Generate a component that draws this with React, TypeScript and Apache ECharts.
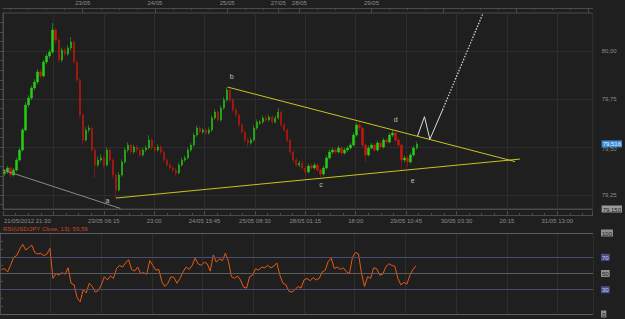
import React, { useEffect, useRef } from "react";
import * as echarts from "echarts";

// ---- time layout (hourly slots, trading hours) ----
const SLOTS = 196;
const bottomLabels = ["21/05/2012 21:30", "23/05 06:15", "23:00", "24/05 15:45", "25/05 08:30", "28/05 01:15", "18:00", "29/05 10:45", "30/05 03:30", "20:15", "31/05 13:00"];
const bottomStep = 16.75;
const topLabels = ["23/05", "24/05", "25/05", "27/05", "28/05", "29/05"];
const topLabelHours = [26.5, 50.5, 74.5, 91.5, 98.5, 122.5];
const dayHours = [26.5, 50.5, 74.5, 91.5, 98.5, 122.5, 146.5, 170.5, 194.5];

// ---- USD/JPY hourly candles ----
const opens = [79.362, 79.370, 79.391, 79.354, 79.380, 79.432, 79.484, 79.589, 79.719, 79.755,
  79.807, 79.839, 79.891, 79.870, 79.943, 79.974, 79.995, 80.109, 80.057, 79.953,
  80.005, 79.984, 80.016, 80.047, 79.943, 79.849, 79.667, 79.536, 79.589, 79.599,
  79.484, 79.406, 79.432, 79.443, 79.406, 79.484, 79.432, 79.354, 79.276, 79.354,
  79.422, 79.484, 79.510, 79.474, 79.500, 79.484, 79.458, 79.484, 79.495, 79.536,
  79.495, 79.484, 79.500, 79.474, 79.432, 79.406, 79.391, 79.380, 79.365, 79.406,
  79.432, 79.443, 79.484, 79.510, 79.562, 79.599, 79.578, 79.589, 79.573, 79.589,
  79.651, 79.682, 79.641, 79.703, 79.745, 79.797, 79.745, 79.693, 79.667, 79.615,
  79.578, 79.536, 79.521, 79.536, 79.599, 79.625, 79.630, 79.651, 79.641, 79.656,
  79.630, 79.651, 79.682, 79.615, 79.589, 79.536, 79.474, 79.432, 79.406, 79.417,
  79.391, 79.370, 79.401, 79.391, 79.406, 79.380, 79.359, 79.391, 79.443, 79.474,
  79.484, 79.474, 79.495, 79.469, 79.484, 79.495, 79.510, 79.562, 79.615, 79.599,
  79.510, 79.458, 79.495, 79.510, 79.484, 79.521, 79.500, 79.536, 79.526, 79.562,
  79.573, 79.536, 79.510, 79.432, 79.443, 79.422, 79.458, 79.495];
const closes = [79.370, 79.391, 79.354, 79.380, 79.432, 79.484, 79.589, 79.719, 79.755, 79.807,
  79.839, 79.891, 79.870, 79.943, 79.974, 79.995, 80.109, 80.057, 79.953, 80.005,
  79.984, 80.016, 80.047, 79.943, 79.849, 79.667, 79.536, 79.589, 79.599, 79.484,
  79.406, 79.432, 79.443, 79.406, 79.484, 79.432, 79.354, 79.276, 79.354, 79.422,
  79.484, 79.510, 79.474, 79.500, 79.484, 79.458, 79.484, 79.495, 79.536, 79.495,
  79.484, 79.500, 79.474, 79.432, 79.406, 79.391, 79.380, 79.365, 79.406, 79.432,
  79.443, 79.484, 79.510, 79.562, 79.599, 79.578, 79.589, 79.573, 79.589, 79.651,
  79.682, 79.641, 79.703, 79.745, 79.797, 79.745, 79.693, 79.667, 79.615, 79.578,
  79.536, 79.521, 79.536, 79.599, 79.630, 79.630, 79.651, 79.641, 79.656, 79.630,
  79.651, 79.682, 79.615, 79.589, 79.536, 79.474, 79.432, 79.406, 79.417, 79.391,
  79.370, 79.401, 79.391, 79.406, 79.380, 79.359, 79.391, 79.443, 79.474, 79.484,
  79.474, 79.495, 79.469, 79.484, 79.495, 79.510, 79.562, 79.615, 79.599, 79.510,
  79.458, 79.495, 79.510, 79.484, 79.521, 79.500, 79.536, 79.526, 79.562, 79.573,
  79.536, 79.510, 79.432, 79.443, 79.422, 79.458, 79.495, 79.516];
const highs = [79.384, 79.402, 79.400, 79.392, 79.445, 79.497, 79.601, 79.735, 79.770, 79.820,
  79.853, 79.905, 79.903, 79.955, 79.986, 80.010, 80.146, 80.120, 80.066, 80.018,
  80.016, 80.030, 80.073, 80.055, 79.951, 79.858, 79.675, 79.603, 79.615, 79.606,
  79.495, 79.450, 79.462, 79.455, 79.498, 79.494, 79.440, 79.362, 79.368, 79.436,
  79.498, 79.525, 79.520, 79.512, 79.510, 79.494, 79.497, 79.508, 79.562, 79.545,
  79.506, 79.514, 79.510, 79.482, 79.442, 79.415, 79.400, 79.390, 79.418, 79.444,
  79.456, 79.496, 79.522, 79.575, 79.612, 79.610, 79.600, 79.598, 79.603, 79.664,
  79.696, 79.690, 79.716, 79.760, 79.812, 79.805, 79.756, 79.705, 79.676, 79.625,
  79.588, 79.548, 79.550, 79.612, 79.643, 79.641, 79.664, 79.662, 79.668, 79.666,
  79.663, 79.703, 79.690, 79.625, 79.598, 79.545, 79.484, 79.442, 79.430, 79.426,
  79.400, 79.414, 79.412, 79.418, 79.415, 79.390, 79.404, 79.456, 79.487, 79.497,
  79.495, 79.507, 79.505, 79.496, 79.506, 79.522, 79.575, 79.627, 79.630, 79.608,
  79.520, 79.508, 79.522, 79.520, 79.533, 79.530, 79.548, 79.546, 79.575, 79.589,
  79.582, 79.545, 79.518, 79.455, 79.452, 79.470, 79.507, 79.528];
const lows = [79.349, 79.360, 79.341, 79.345, 79.372, 79.424, 79.476, 79.580, 79.705, 79.744,
  79.795, 79.826, 79.857, 79.862, 79.931, 79.962, 79.985, 80.040, 79.940, 79.941,
  79.970, 79.975, 80.004, 79.930, 79.835, 79.650, 79.510, 79.528, 79.575, 79.470,
  79.338, 79.395, 79.420, 79.392, 79.398, 79.420, 79.340, 79.234, 79.268, 79.345,
  79.414, 79.472, 79.462, 79.465, 79.472, 79.447, 79.450, 79.475, 79.488, 79.484,
  79.474, 79.476, 79.462, 79.420, 79.395, 79.380, 79.368, 79.349, 79.358, 79.398,
  79.422, 79.435, 79.476, 79.502, 79.553, 79.568, 79.568, 79.562, 79.564, 79.580,
  79.642, 79.630, 79.633, 79.694, 79.736, 79.733, 79.680, 79.655, 79.603, 79.566,
  79.525, 79.500, 79.512, 79.528, 79.590, 79.615, 79.620, 79.630, 79.632, 79.620,
  79.622, 79.642, 79.604, 79.578, 79.524, 79.462, 79.420, 79.395, 79.396, 79.380,
  79.344, 79.362, 79.380, 79.382, 79.370, 79.344, 79.350, 79.383, 79.434, 79.463,
  79.464, 79.465, 79.458, 79.460, 79.474, 79.486, 79.502, 79.553, 79.588, 79.498,
  79.422, 79.450, 79.486, 79.474, 79.476, 79.490, 79.492, 79.515, 79.518, 79.552,
  79.525, 79.498, 79.380, 79.420, 79.396, 79.414, 79.450, 79.486];

// ---- RSI(13) ----
const rsi = [55, 56, 52, 60, 70, 72, 80, 86, 79, 82,
  85, 76, 74, 75, 72, 74, 81, 44, 50, 48,
  51, 49, 57, 38, 36, 20, 15, 30, 26, 38,
  34, 27, 29, 36, 46, 42, 47, 44, 56, 60,
  58, 63, 67, 55, 53, 58, 50, 51, 49, 66,
  60, 54, 55, 40, 34, 38, 46, 45, 38, 44,
  52, 58, 55, 60, 69, 62, 60, 64, 62, 53,
  73, 64, 68, 66, 75, 65, 46, 44, 47, 42,
  33, 32, 46, 48, 56, 54, 58, 57, 60, 57,
  59, 63, 48, 38, 36, 28, 27, 30, 34, 32,
  42, 44, 41, 45, 42, 44, 52, 54, 65, 69,
  56, 58, 55, 57, 52, 50, 70, 76, 74, 50,
  34, 46, 44, 57, 56, 48, 49, 58, 62, 60,
  59, 44, 36, 39, 37, 48, 55, 59.59];
const rsiLevels = [100, 70, 50, 30, 0];

// ---- price axis ----
const priceMin = 79.177;
const priceMax = 80.198;
const priceTicks = [79.25, 79.5, 79.75, 80.0];
const lastPrice = 79.516;
const bottomBoxText = "79,150";

// ---- wave annotations (hours, price) ----
const lineA = [[0, 79.380], [39, 79.180]];
const lineLower = [[37.5, 79.234], [171.8, 79.437]];
const lineUpper = [[74.7, 79.812], [170.2, 79.424]];
const zigzag = [[137.8, 79.557], [140.1, 79.658], [141.9, 79.540], [146.1, 79.693]];
const projection = [[146.1, 79.693], [159.6, 80.198]];
const waveLabels = ["a", "b", "c", "d", "e"];
const waveX = [34.7, 76, 105.7, 130.5, 136.2];
const waveY = [79.219, 79.865, 79.307, 79.641, 79.328];

const BG = "#1f1f1f";
const GRID = "#2d2d2d";
const AXIS = "#4b4b4b";
const TEXT = "#8c8c8c";
const FONT = "Liberation Sans";
const UP = "#27cf14";
const DOWN = "#c8160c";
const YELLOW = "#c9c31e";

export default function App() {
  const ref = useRef<HTMLDivElement>(null);
  useEffect(() => {
    const chart = echarts.init(ref.current as HTMLDivElement, null, { renderer: "svg" });
    const slotNames = Array.from({ length: SLOTS }, (_, i) => String(i));
    const candles = opens.map((o, i) => [o, closes[i], lows[i], highs[i]]);
    const minorHours: number[] = [];
    for (let h = 2.5; h < SLOTS; h += 6) minorHours.push(h);
    const fineTicks: number[] = [];
    for (let v = 79.2; v < priceMax; v += 0.05) fineTicks.push(Math.round(v * 100) / 100);
    const rsiTicks: number[] = [];
    for (let v = 0; v <= 100; v += 10) rsiTicks.push(v);
    const fmt = (v: number) => v.toFixed(2).replace(".", ",");
    const tickStyle = { color: AXIS, width: 1 };
    const label6 = { color: TEXT, fontSize: 6, fontFamily: FONT };

    const option: any = {
      animation: false,
      backgroundColor: BG,
      textStyle: { fontFamily: FONT },
      title: {
        text: "RSI(USD/JPY Close, 13): 59,59",
        left: 3,
        top: 226,
        padding: 0,
        textStyle: { color: "#d2461b", fontSize: 6, fontWeight: "normal", fontFamily: FONT },
      },
      grid: [
        { left: 0, right: 32, top: 13, bottom: 110, show: true, borderColor: AXIS, borderWidth: 1, backgroundColor: "transparent" },
        { left: 0, right: 32, top: 233, bottom: 5, show: false },
      ],
      xAxis: [
        { type: "category", gridIndex: 0, data: slotNames, show: false, boundaryGap: true },
        {
          type: "value", gridIndex: 0, min: 0, max: SLOTS, interval: bottomStep, position: "bottom",
          axisLine: { show: true, lineStyle: tickStyle }, axisTick: { show: false }, axisLabel: { show: false },
          splitLine: { show: true, lineStyle: { color: GRID } },
        },
        {
          type: "value", gridIndex: 0, min: 0, max: SLOTS, interval: bottomStep, position: "bottom", offset: 6,
          axisLine: { show: true, lineStyle: tickStyle },
          axisTick: { show: true, inside: true, length: 4, lineStyle: tickStyle },
          minorTick: { show: true, splitNumber: 4, length: 2, lineStyle: tickStyle },
          axisLabel: {
            margin: 3, showMaxLabel: false,
            formatter: (v: number) => {
              const k = Math.round(v / bottomStep);
              if (k === 1) return `{f|${bottomLabels[0]}}`;
              const t = bottomLabels[k - 1];
              return k >= 1 && t ? `{n|${t}}` : "";
            },
            rich: {
              n: { ...label6 },
              f: { ...label6, padding: [0, 52, 0, 0] },
            },
          },
          splitLine: { show: false },
        },
        {
          type: "value", gridIndex: 0, min: 0, max: SLOTS, position: "top", offset: 5,
          axisLine: { show: true, lineStyle: tickStyle },
          axisTick: { show: true, inside: true, length: 5, customValues: dayHours, lineStyle: tickStyle },
          axisLabel: {
            ...label6, margin: 2, customValues: topLabelHours,
            formatter: (v: number) => {
              const k = topLabelHours.findIndex((h) => Math.abs(h - v) < 1e-6);
              return k >= 0 ? topLabels[k] : "";
            },
          },
          splitLine: { show: false },
        },
        {
          type: "value", gridIndex: 0, min: 0, max: SLOTS, position: "top", offset: 5,
          axisLine: { show: false },
          axisTick: { show: true, inside: true, length: 2, customValues: minorHours, lineStyle: tickStyle },
          axisLabel: { show: false }, splitLine: { show: false },
        },
        {
          type: "value", gridIndex: 1, min: 0, max: SLOTS, interval: bottomStep,
          axisLine: { show: false }, axisTick: { show: false }, axisLabel: { show: false },
          splitLine: { show: true, lineStyle: { color: GRID } },
        },
      ],
      yAxis: [
        {
          type: "value", gridIndex: 0, position: "right", min: priceMin, max: priceMax,
          axisLine: { show: true, lineStyle: tickStyle },
          axisTick: { show: false, customValues: priceTicks },
          axisLabel: { show: false },
          splitLine: { show: true, lineStyle: { color: GRID } },
        },
        {
          type: "value", gridIndex: 0, position: "right", offset: 7, min: priceMin, max: priceMax,
          axisLine: { show: true, lineStyle: tickStyle },
          axisTick: { show: true, inside: true, length: 3, customValues: fineTicks, lineStyle: tickStyle },
          axisLabel: {
            margin: 2,
            customValues: [priceMin, ...priceTicks, lastPrice],
            formatter: (v: number) => {
              if (Math.abs(v - lastPrice) < 1e-6) return `{cur|${v.toFixed(3).replace(".", ",")}}`;
              if (Math.abs(v - priceMin) < 1e-6) return `{box|${bottomBoxText}}`;
              if (Math.abs(v - 79.5) < 1e-6) return `{low|${fmt(v)}}`;
              return `{n|${fmt(v)}}`;
            },
            rich: {
              n: { color: TEXT, fontSize: 6, fontFamily: FONT },
              low: { color: TEXT, fontSize: 6, fontFamily: FONT, padding: [5, 0, 0, 0] },
              cur: { color: "#e8f4ff", backgroundColor: "#3a8ad4", fontSize: 6, fontFamily: FONT, padding: [1, 1, 0, 1] },
              box: { color: "#222", backgroundColor: "#9a9a9a", fontSize: 6, fontFamily: FONT, padding: [1, 1, 0, 1] },
            },
          },
          splitLine: { show: false },
        },
        {
          type: "value", gridIndex: 1, position: "right", min: 0, max: 100,
          axisLine: { show: true, lineStyle: tickStyle },
          axisTick: { show: true, length: 3, customValues: rsiTicks, lineStyle: tickStyle },
          axisLabel: {
            margin: 8,
            customValues: rsiLevels,
            formatter: (v: number) => (v === 70 || v === 30 ? `{p|${v}}` : `{g|${v}}`),
            rich: {
              g: { color: "#222", backgroundColor: "#8e8e8e", fontSize: 6, fontFamily: FONT, padding: [1, 1, 0, 1] },
              p: { color: "#c8c8ee", backgroundColor: "#4f4f8c", fontSize: 6, fontFamily: FONT, padding: [1, 1, 0, 1] },
            },
          },
          splitLine: { show: false },
        },
      ],
      series: [
        {
          type: "candlestick", xAxisIndex: 0, yAxisIndex: 0, data: candles, barWidth: 1.8,
          itemStyle: { color: UP, color0: DOWN, borderColor: UP, borderColor0: DOWN, borderWidth: 0.5 },
        },
        { type: "line", xAxisIndex: 1, yAxisIndex: 0, data: lineA, symbol: "none", lineStyle: { color: "#8a8a8a", width: 1 } },
        { type: "line", xAxisIndex: 1, yAxisIndex: 0, data: lineLower, symbol: "none", lineStyle: { color: YELLOW, width: 1 } },
        { type: "line", xAxisIndex: 1, yAxisIndex: 0, data: lineUpper, symbol: "none", lineStyle: { color: YELLOW, width: 1 } },
        { type: "line", xAxisIndex: 1, yAxisIndex: 0, data: zigzag, symbol: "none", lineStyle: { color: "#dcdcdc", width: 1 } },
        { type: "line", xAxisIndex: 1, yAxisIndex: 0, data: projection, symbol: "none", lineStyle: { color: "#d0d0d0", width: 1.3, type: [1.5, 1.5] } },
        {
          type: "scatter", xAxisIndex: 1, yAxisIndex: 0, symbolSize: 0,
          data: waveX.map((x, i) => [x, waveY[i]]),
          label: {
            show: true, position: "inside", color: "#e6e6e6", fontSize: 7, fontFamily: FONT,
            formatter: (p: any) => waveLabels[p.dataIndex],
          },
        },
        {
          type: "line", xAxisIndex: 5, yAxisIndex: 2, data: rsi.map((v, i) => [i + 0.5, v]),
          symbol: "none", lineStyle: { color: "#ea5a12", width: 1 },
          markLine: {
            silent: true, symbol: ["none", "none"], label: { show: false },
            data: rsiLevels.map((v) => ({
              yAxis: v,
              lineStyle: { color: v === 70 || v === 30 ? "#4c4c70" : "#5e5e5e", width: 1, type: "solid" },
            })),
          },
        },
      ],
    };
    chart.setOption(option);
    return () => chart.dispose();
  }, []);
  return <div ref={ref} style={{ position: "fixed", left: 0, top: 0, width: 625, height: 319 }} />;
}
